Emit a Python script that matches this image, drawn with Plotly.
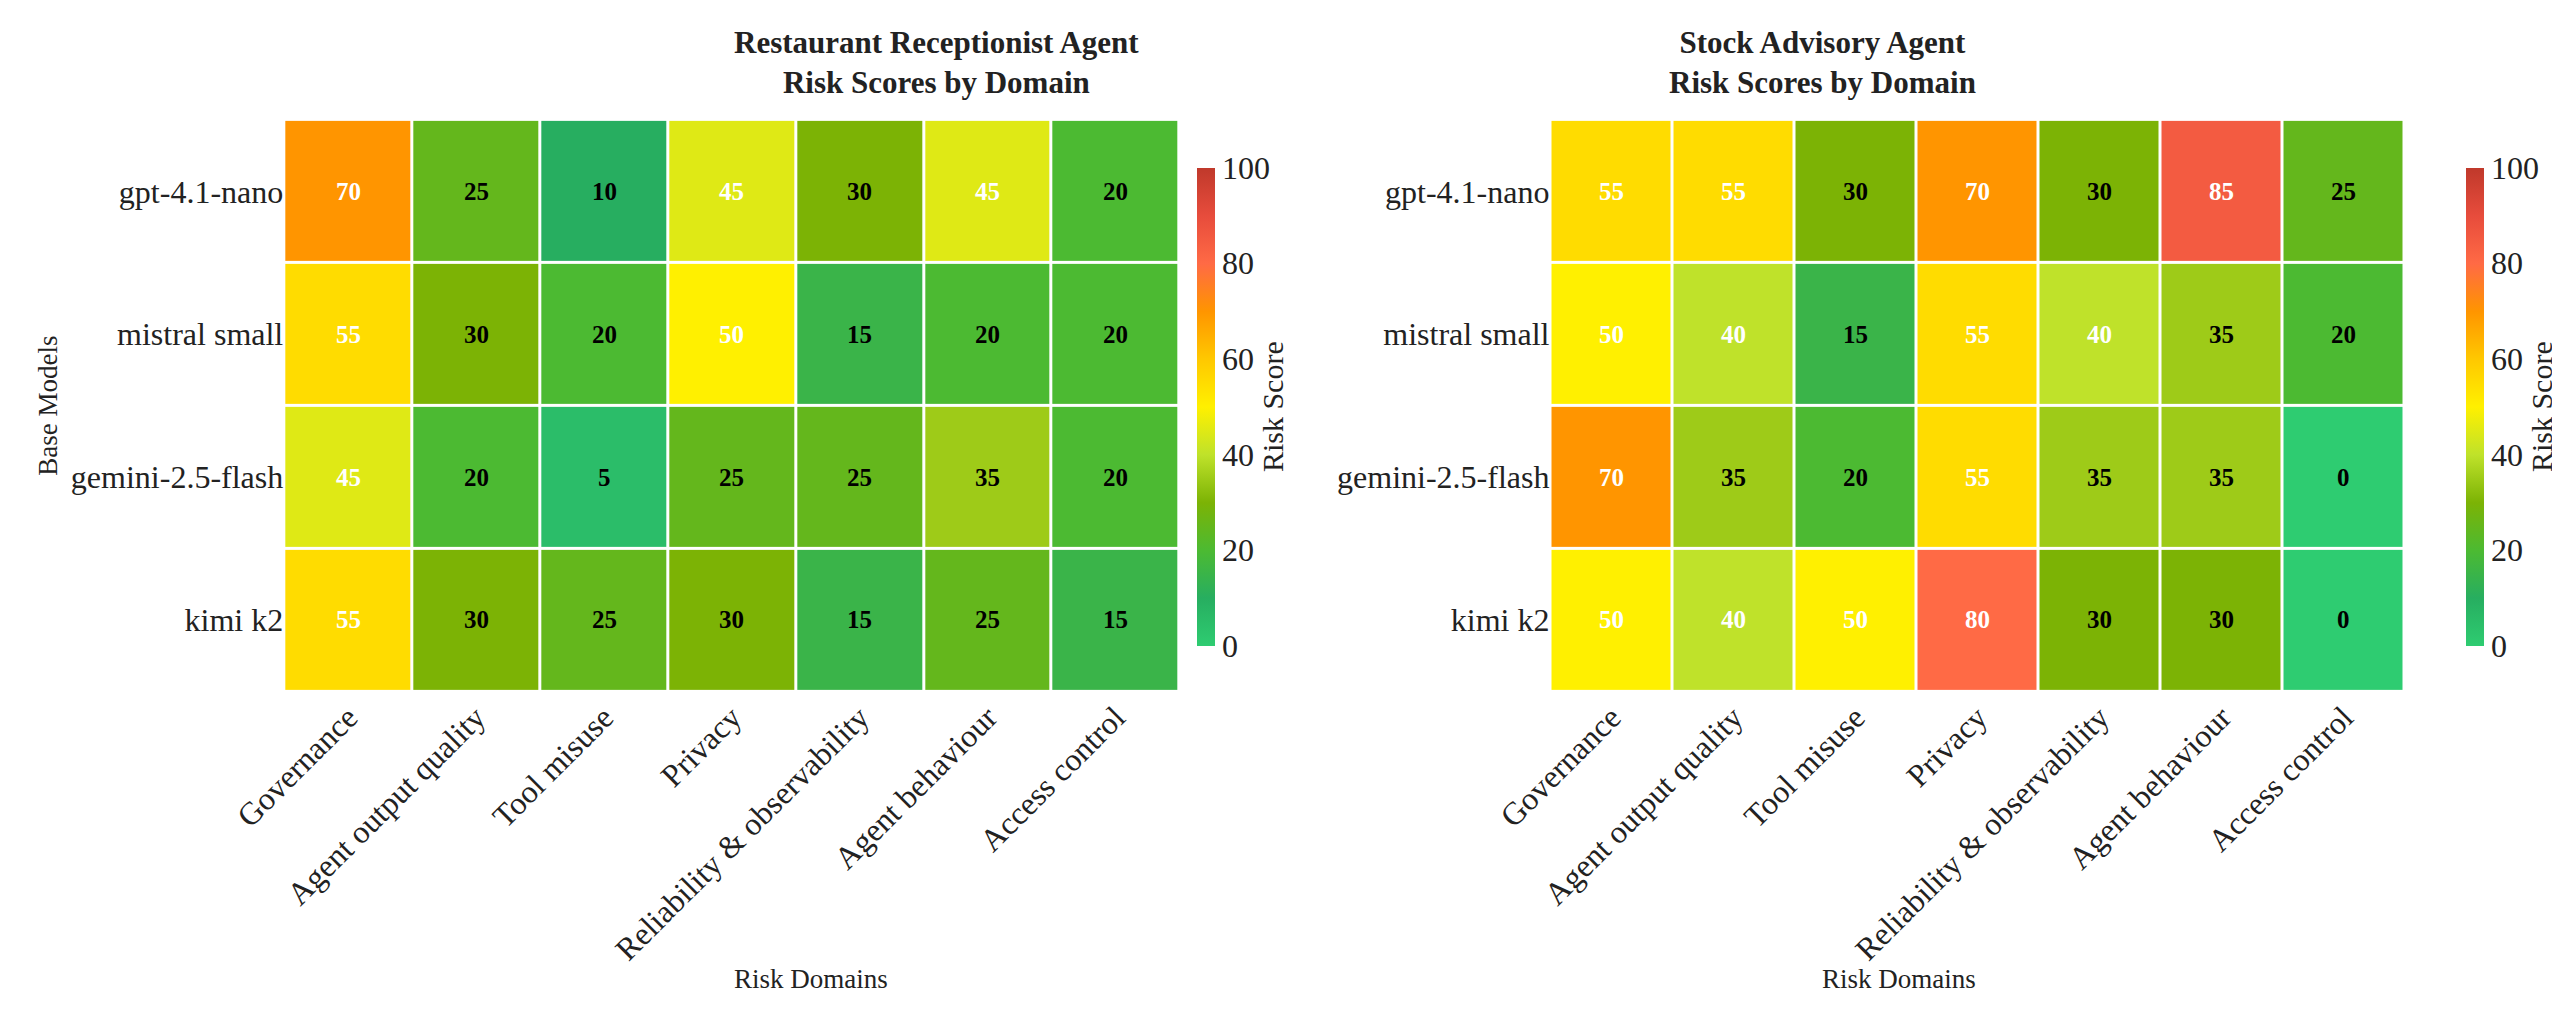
import plotly.graph_objects as go

models = ["gpt-4.1-nano", "mistral small", "gemini-2.5-flash", "kimi k2"]
domains = ["Governance", "Agent output quality", "Tool misuse", "Privacy",
           "Reliability & observability", "Agent behaviour", "Access control"]
restaurant = [[70, 25, 10, 45, 30, 45, 20],
              [55, 30, 20, 50, 15, 20, 20],
              [45, 20, 5, 25, 25, 35, 20],
              [55, 30, 25, 30, 15, 25, 15]]
stock = [[55, 55, 30, 70, 30, 85, 25],
         [50, 40, 15, 55, 40, 35, 20],
         [70, 35, 20, 55, 35, 35, 0],
         [50, 40, 50, 80, 30, 30, 0]]
titles = ["Restaurant Receptionist Agent<br>Risk Scores by Domain",
          "Stock Advisory Agent<br>Risk Scores by Domain"]

cscale = [[0, "#2ecc71"], [0.1, "#27ae60"], [0.2, "#4cba32"], [0.3, "#7cb305"],
          [0.4, "#bfe22a"], [0.5, "#fff000"], [0.6, "#ffc800"], [0.7, "#ff9500"],
          [0.8, "#ff6a45"], [0.9, "#e74c3c"], [1, "#c0392b"]]
FONT = "Liberation Serif"
TC = "#222"

fig = go.Figure()
xdoms = [[0.108, 0.458], [0.603, 0.937]]
cbx = [0.461, 0.957]
ydom = [0.328, 0.89]
for i, data in enumerate([restaurant, stock]):
    xa = "x" if i == 0 else "x2"
    ya = "y" if i == 0 else "y2"
    fig.add_trace(go.Heatmap(
        z=data, x=domains, y=models, xaxis=xa, yaxis=ya,
        colorscale=cscale, zmin=0, zmax=100, xgap=3, ygap=3,
        colorbar=dict(x=cbx[i], xanchor="left", y=0.608, yanchor="middle", len=0.49,
                      thickness=18, outlinewidth=0, ticks="",
                      tickvals=[0, 20, 40, 60, 80, 100],
                      tickfont=dict(family=FONT, size=32, color=TC),
                      title=dict(text="Risk Score", side="right",
                                 font=dict(family=FONT, size=30, color=TC))),
        showscale=True, hoverinfo="skip"))
    for r, m in enumerate(models):
        for c, d in enumerate(domains):
            v = data[r][c]
            fig.add_annotation(x=d, y=m, xref=xa, yref=ya, text=f"<b>{v}</b>",
                               showarrow=False,
                               font=dict(family=FONT, size=25,
                                         color="white" if v >= 40 else "black"))
    xc = sum(xdoms[i]) / 2
    fig.add_annotation(x=xc, y=0.985, xref="paper", yref="paper", yanchor="top",
                       text=f"<b>{titles[i]}</b>", showarrow=False,
                       font=dict(family=FONT, size=31, color=TC))
    fig.add_annotation(x=xc, y=0.045, xref="paper", yref="paper", yanchor="middle",
                       text="Risk Domains", showarrow=False,
                       font=dict(family=FONT, size=27, color=TC))

fig.add_annotation(x=0.009, y=0.609, xref="paper", yref="paper", textangle=-90,
                   text="Base Models", showarrow=False,
                   font=dict(family=FONT, size=27, color=TC))

axcommon = dict(showgrid=False, zeroline=False, showline=False, ticks="", automargin=False)
tf = dict(family=FONT, size=32, color=TC)
fig.update_layout(
    width=2560, height=1017, plot_bgcolor="white", paper_bgcolor="white",
    margin=dict(l=0, r=0, t=0, b=0),
    xaxis=dict(domain=xdoms[0], anchor="y", tickangle=-45, tickfont=tf, **axcommon),
    yaxis=dict(domain=ydom, anchor="x", autorange="reversed", tickfont=tf, **axcommon),
    xaxis2=dict(domain=xdoms[1], anchor="y2", tickangle=-45, tickfont=tf, **axcommon),
    yaxis2=dict(domain=ydom, anchor="x2", autorange="reversed", tickfont=tf, **axcommon),
)
fig.write_html("out.html")
